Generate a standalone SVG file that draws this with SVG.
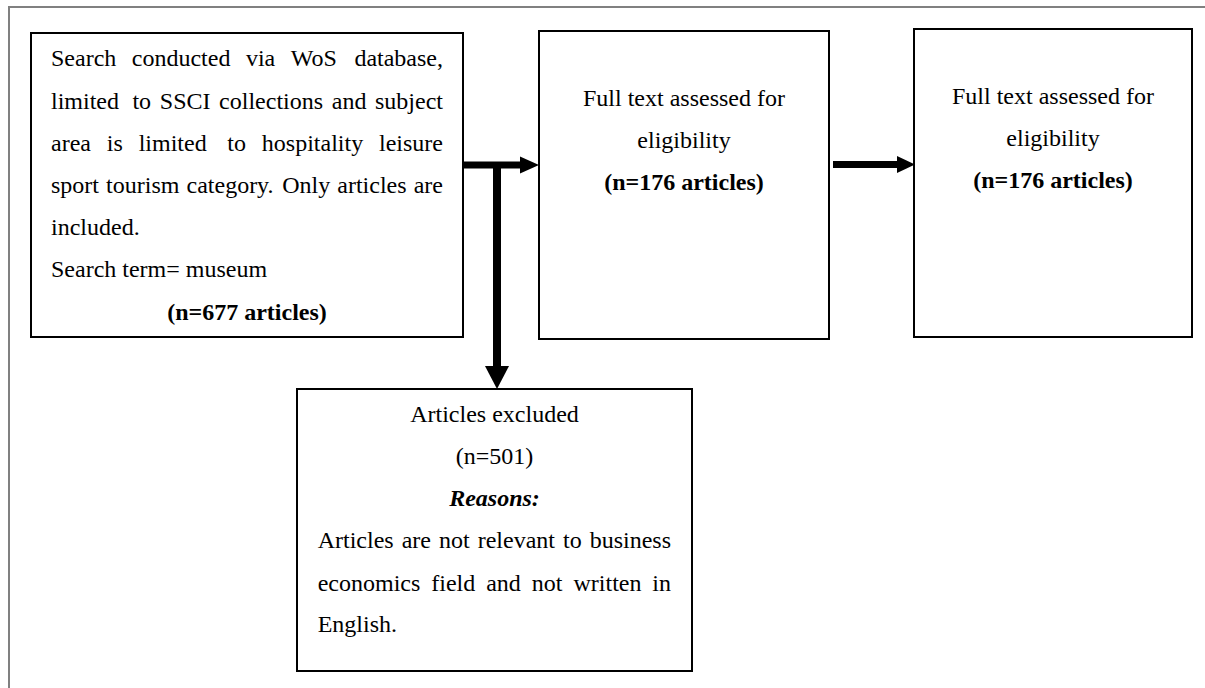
<svg xmlns="http://www.w3.org/2000/svg" width="1205" height="688" viewBox="0 0 1205 688">
<style>
.box{fill:#fff;stroke:#000;stroke-width:2}
.t{font-size:24px;fill:#000}
.c{text-anchor:middle}
.e{text-anchor:end}
.b{font-weight:bold}
.bi{font-weight:bold;font-style:italic}
.shaft{stroke:#000;fill:none}
.head{fill:#000}
.frame{stroke:#808080;stroke-width:2;fill:none}
</style>
<rect width="1205" height="688" fill="#fff"/>
<path class="frame" d="M9,688 V7 H1205"/>
<g id="connectors">
<line class="shaft" x1="463" y1="165" x2="522" y2="165" stroke-width="7"/>
<polygon class="head" points="520,156.5 539,165 520,173.5"/>
<line class="shaft" x1="497" y1="165" x2="497" y2="368" stroke-width="8"/>
<polygon class="head" points="485,366 509,366 497,389"/>
<line class="shaft" x1="833" y1="164.5" x2="899" y2="164.5" stroke-width="7"/>
<polygon class="head" points="897,156 915,164.5 897,173"/>
</g>
<g font-family="Liberation Serif, Times New Roman, serif">
<g id="search">
<rect class="box" x="31" y="33" width="432" height="304"/>
<text class="t" y="66"><tspan x="51">Search</tspan><tspan x="131.8">conducted</tspan><tspan x="245.9">via</tspan><tspan x="290.7">WoS</tspan></text>
<text class="t e" x="443" y="66">database,</text>
<text class="t" y="108.5"><tspan x="51">limited</tspan><tspan x="132.4">to</tspan><tspan x="159.8">SSCI</tspan><tspan x="219.1">collections</tspan><tspan x="331.8">and</tspan></text>
<text class="t e" x="443" y="108.5">subject</text>
<text class="t" y="151"><tspan x="51">area</tspan><tspan x="106.8">is</tspan><tspan x="138.7">limited</tspan><tspan x="227.3">to</tspan><tspan x="261.8">hospitality</tspan></text>
<text class="t e" x="443" y="151">leisure</text>
<text class="t" y="193"><tspan x="51">sport</tspan><tspan x="106.1">tourism</tspan><tspan x="186.5">category.</tspan><tspan x="282.2">Only</tspan><tspan x="337.3">articles</tspan></text>
<text class="t e" x="443" y="193">are</text>
<text class="t" x="51" y="235">included.</text>
<text class="t" x="51" y="277">Search term= museum</text>
<text class="t c b" x="247" y="320">(n=677 articles)</text>
</g>
<g id="fulltext1">
<rect class="box" x="539" y="31" width="290" height="308"/>
<text class="t c" x="684" y="106">Full text assessed for</text>
<text class="t c" x="684" y="148">eligibility</text>
<text class="t c b" x="684" y="190">(n=176 articles)</text>
</g>
<g id="fulltext2">
<rect class="box" x="914" y="29" width="278" height="308"/>
<text class="t c" x="1053" y="104">Full text assessed for</text>
<text class="t c" x="1053" y="146">eligibility</text>
<text class="t c b" x="1053" y="188">(n=176 articles)</text>
</g>
<g id="excluded">
<rect class="box" x="297" y="389" width="395" height="282"/>
<text class="t c" x="494.5" y="422">Articles excluded</text>
<text class="t c" x="494.5" y="464">(n=501)</text>
<text class="t c bi" x="494.5" y="506">Reasons:</text>
<text class="t" y="548"><tspan x="317.7">Articles</tspan><tspan x="401.7">are</tspan><tspan x="439">not</tspan><tspan x="477.7">relevant</tspan><tspan x="563">to</tspan></text>
<text class="t e" x="671" y="548">business</text>
<text class="t" y="590.5"><tspan x="317.7">economics</tspan><tspan x="431.3">field</tspan><tspan x="486.2">and</tspan><tspan x="531.8">not</tspan><tspan x="573.5">written</tspan></text>
<text class="t e" x="671" y="590.5">in</text>
<text class="t" x="317.7" y="632">English.</text>
</g>
</g>
</svg>
